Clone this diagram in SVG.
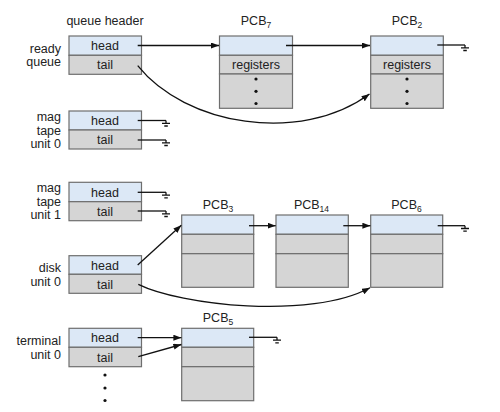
<svg xmlns="http://www.w3.org/2000/svg" width="500" height="412" viewBox="0 0 500 412">
<defs>
<marker id="arr" markerUnits="userSpaceOnUse" markerWidth="9" markerHeight="7" refX="8" refY="3" orient="auto">
<path d="M0,0 L8,3 L0,6 z" fill="#111"/>
</marker>
<style>
text{font-family:"Liberation Sans",Arial,sans-serif;font-size:12.5px;fill:#222}
.c{text-anchor:middle}
.r{text-anchor:end}
.sub{font-size:8.5px}
.h{fill:#dce8f6;stroke:#6e6e6e;stroke-width:1.2}
.g{fill:#d5d5d5;stroke:#6e6e6e;stroke-width:1.2}
.ln{fill:none;stroke:#111;stroke-width:1.3}
.gnd{fill:none;stroke:#111;stroke-width:1.3}
.dot{fill:#111}
</style>
</defs>
<rect width="500" height="412" fill="#fff"/>

<text class="c" x="105" y="25">queue header</text>

<g id="ready-queue">
<text class="r" x="61" y="52.5">ready</text>
<text class="r" x="61" y="66">queue</text>
<rect class="h" x="69" y="36" width="72.5" height="19.3"/>
<rect class="g" x="69" y="55.3" width="72.5" height="19"/>
<text class="c" x="105" y="50">head</text>
<text class="c" x="105" y="69">tail</text>
</g>

<g id="mag-tape-0">
<text class="r" x="61" y="121">mag</text>
<text class="r" x="61" y="134.5">tape</text>
<text class="r" x="61" y="148">unit 0</text>
<rect class="h" x="69" y="111" width="72.5" height="19"/>
<rect class="g" x="69" y="130" width="72.5" height="19"/>
<text class="c" x="105" y="125">head</text>
<text class="c" x="105" y="144">tail</text>
</g>

<g id="mag-tape-1">
<text class="r" x="61" y="192">mag</text>
<text class="r" x="61" y="205.5">tape</text>
<text class="r" x="61" y="219">unit 1</text>
<rect class="h" x="69" y="182.3" width="72.5" height="19.4"/>
<rect class="g" x="69" y="201.7" width="72.5" height="19"/>
<text class="c" x="105" y="196.5">head</text>
<text class="c" x="105" y="215.5">tail</text>
</g>

<g id="disk-unit-0">
<text class="r" x="61" y="271.5">disk</text>
<text class="r" x="61" y="286">unit 0</text>
<rect class="h" x="69" y="255.7" width="72.5" height="18.6"/>
<rect class="g" x="69" y="274.3" width="72.5" height="19"/>
<text class="c" x="105" y="269.5">head</text>
<text class="c" x="105" y="288.5">tail</text>
</g>

<g id="terminal-unit-0">
<text class="r" x="61" y="345">terminal</text>
<text class="r" x="61" y="359">unit 0</text>
<rect class="h" x="69" y="328.3" width="72.5" height="19"/>
<rect class="g" x="69" y="347.3" width="72.5" height="19.4"/>
<text class="c" x="105" y="342">head</text>
<text class="c" x="105" y="361.5">tail</text>
<circle class="dot" cx="105" cy="375" r="1.6"/>
<circle class="dot" cx="105" cy="388" r="1.6"/>
<circle class="dot" cx="105" cy="400.5" r="1.6"/>
</g>

<g id="pcb7">
<text class="c" x="256" y="25">PCB<tspan class="sub" dy="3">7</tspan></text>
<rect class="h" x="219.5" y="36" width="73" height="19.3"/>
<rect class="g" x="219.5" y="55.3" width="73" height="18.7"/>
<rect class="g" x="219.5" y="74" width="73" height="34.3"/>
<text class="c" x="256" y="68.5">registers</text>
<circle class="dot" cx="256" cy="79" r="1.6"/>
<circle class="dot" cx="256" cy="91.3" r="1.6"/>
<circle class="dot" cx="256" cy="103.5" r="1.6"/>
</g>

<g id="pcb2">
<text class="c" x="407" y="25">PCB<tspan class="sub" dy="3">2</tspan></text>
<rect class="h" x="370.7" y="36" width="72.6" height="19.3"/>
<rect class="g" x="370.7" y="55.3" width="72.6" height="18.7"/>
<rect class="g" x="370.7" y="74" width="72.6" height="34.3"/>
<text class="c" x="407" y="68.5">registers</text>
<circle class="dot" cx="407" cy="79" r="1.6"/>
<circle class="dot" cx="407" cy="91.3" r="1.6"/>
<circle class="dot" cx="407" cy="103.5" r="1.6"/>
</g>

<g id="pcb3">
<text class="c" x="218" y="209">PCB<tspan class="sub" dy="3">3</tspan></text>
<rect class="h" x="181.7" y="215" width="72" height="19.3"/>
<rect class="g" x="181.7" y="234.3" width="72" height="19.4"/>
<rect class="g" x="181.7" y="253.7" width="72" height="33.6"/>
</g>

<g id="pcb14">
<text class="c" x="311.5" y="209">PCB<tspan class="sub" dy="3">14</tspan></text>
<rect class="h" x="276" y="215" width="72.3" height="19.3"/>
<rect class="g" x="276" y="234.3" width="72.3" height="19.4"/>
<rect class="g" x="276" y="253.7" width="72.3" height="33.6"/>
</g>

<g id="pcb6">
<text class="c" x="406.5" y="209">PCB<tspan class="sub" dy="3">6</tspan></text>
<rect class="h" x="370.7" y="215" width="72" height="19.3"/>
<rect class="g" x="370.7" y="234.3" width="72" height="19.4"/>
<rect class="g" x="370.7" y="253.7" width="72" height="33.6"/>
</g>

<g id="pcb5">
<text class="c" x="218" y="322">PCB<tspan class="sub" dy="3">5</tspan></text>
<rect class="h" x="181.7" y="328.3" width="72" height="19"/>
<rect class="g" x="181.7" y="347.3" width="72" height="19.4"/>
<rect class="g" x="181.7" y="366.7" width="72" height="34"/>
</g>

<g id="connectors">
<path class="ln" marker-end="url(#arr)" d="M137.7,45.5 H219"/>
<path class="ln" marker-end="url(#arr)" d="M286,45.5 H370"/>
<path class="ln" marker-end="url(#arr)" d="M137.7,65.7 C185,125 300,145 369.5,94"/>
<path class="ln" d="M437.3,45 H465"/>
<path class="gnd" d="M465,45 V47.8 M461,47.8 H469 M463.3,50.5 H466.8"/>

<path class="ln" d="M137.7,120.5 H166"/>
<path class="gnd" d="M166,120.5 V123.3 M162,123.3 H170 M164.3,126 H167.8"/>
<path class="ln" d="M137.7,140 H166"/>
<path class="gnd" d="M166,140 V142.8 M162,142.8 H170 M164.3,145.5 H167.8"/>

<path class="ln" d="M137.7,192.3 H166"/>
<path class="gnd" d="M166,192.3 V195.1 M162,195.1 H170 M164.3,197.8 H167.8"/>
<path class="ln" d="M137.7,211 H166"/>
<path class="gnd" d="M166,211 V213.8 M162,213.8 H170 M164.3,216.5 H167.8"/>

<path class="ln" marker-end="url(#arr)" d="M137.7,265 L181.3,225.3"/>
<path class="ln" marker-end="url(#arr)" d="M138.3,284.3 C180,305 310,320 370,287.7"/>
<path class="ln" marker-end="url(#arr)" d="M249,225.7 H275.7"/>
<path class="ln" marker-end="url(#arr)" d="M343.3,225.7 H370.4"/>
<path class="ln" d="M437.7,225.7 H465"/>
<path class="gnd" d="M465,225.7 V228.5 M461,228.5 H469 M463.3,231.2 H466.8"/>

<path class="ln" marker-end="url(#arr)" d="M137.7,337.7 H181.4"/>
<path class="ln" marker-end="url(#arr)" d="M138.3,356.7 L181.4,344.5"/>
<path class="ln" d="M249,337.3 H277"/>
<path class="gnd" d="M277,337.3 V340.1 M273,340.1 H281 M275.3,342.8 H278.8"/>
</g>
</svg>
